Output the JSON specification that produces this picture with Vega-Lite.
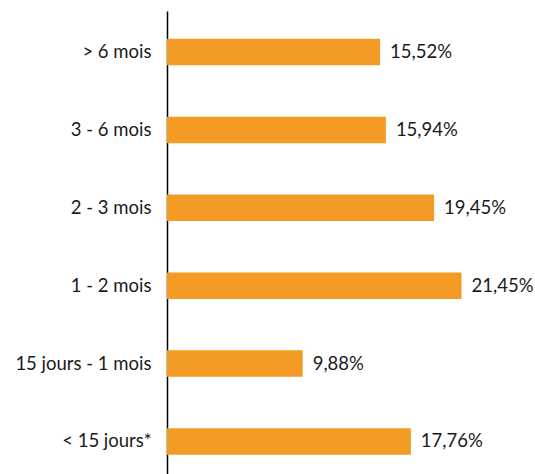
{
  "$schema": "https://vega.github.io/schema/vega-lite/v6.json",
  "width": 368,
  "height": 463,
  "autosize": "none",
  "padding": {"left": 167, "top": 11, "right": 0, "bottom": 0},
  "background": "white",
  "data": {
    "values": [
      {"category": "> 6 mois", "value": 15.52, "label": "15,52%"},
      {"category": "3 - 6 mois", "value": 15.94, "label": "15,94%"},
      {"category": "2 - 3 mois", "value": 19.45, "label": "19,45%"},
      {"category": "1 - 2 mois", "value": 21.45, "label": "21,45%"},
      {"category": "15 jours - 1 mois", "value": 9.88, "label": "9,88%"},
      {"category": "< 15 jours*", "value": 17.76, "label": "17,76%"}
    ]
  },
  "encoding": {
    "y": {
      "field": "category",
      "type": "nominal",
      "sort": null,
      "scale": {"paddingInner": 0.66, "paddingOuter": 0.302, "align": 0.59},
      "axis": {
        "title": null,
        "ticks": false,
        "domainColor": "#000000",
        "domainWidth": 1.5,
        "labelFont": "Lato",
        "labelFontSize": 18.5,
        "labelColor": "#1a1a1a",
        "labelPadding": 16
      }
    },
    "x": {
      "field": "value",
      "type": "quantitative",
      "scale": {"domain": [0, 26.8], "nice": false},
      "axis": null
    }
  },
  "layer": [
    {"mark": {"type": "bar", "color": "#F49B25"}},
    {
      "mark": {"type": "text", "align": "left", "baseline": "middle", "dx": 10, "font": "Lato", "fontSize": 18.5, "color": "#1a1a1a"},
      "encoding": {"text": {"field": "label"}}
    }
  ],
  "config": {"view": {"stroke": null}}
}
